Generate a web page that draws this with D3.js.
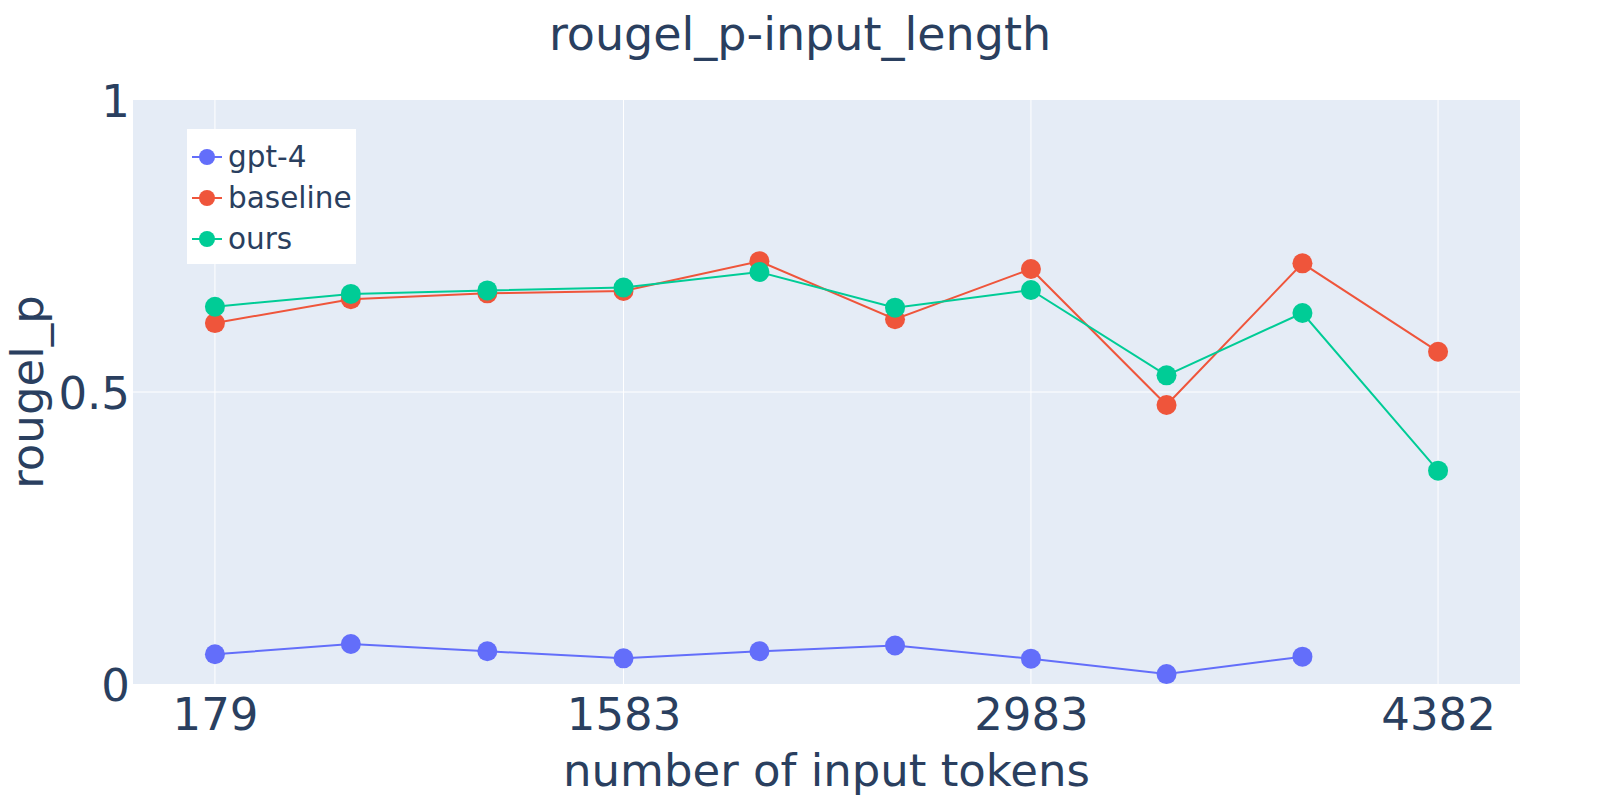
<!DOCTYPE html>
<html>
<head>
<meta charset="utf-8">
<script src="https://cdn.jsdelivr.net/npm/d3@7"></script>
<style>
  html, body { margin: 0; padding: 0; background: #fff; }
  svg { display: block; font-family: "DejaVu Sans", Verdana, sans-serif; }
</style>
</head>
<body>
<svg id="chart" width="1600" height="800"></svg>
<script>
// ---- data ----
const xValues = [179, 646, 1115, 1583, 2050, 2516, 2983, 3449, 3916, 4382];
const gpt4 = [0.051, 0.0685, 0.056, 0.044, 0.056, 0.066, 0.0434, 0.017, 0.0468];
const baseline = [0.618, 0.659, 0.669, 0.673, 0.724, 0.6245, 0.7106, 0.4777, 0.7203, 0.569];
const ours = [0.646, 0.668, 0.674, 0.679, 0.7055, 0.6444, 0.6747, 0.5285, 0.6353, 0.3653];
const seriesNames = ["gpt-4", "baseline", "ours"];
const xTicks = [179, 1583, 2983, 4382];
const yTicks = [0, 0.5, 1];
const yTickLabels = ["0", "0.5", "1"];
const titleText = "rougel_p-input_length";
const xTitle = "number of input tokens";
const yTitle = "rougel_p";

// ---- layout ----
const W = 1600, H = 800;
const plot = { left: 133, right: 1520, top: 100, bottom: 684 };
const colors = ["#636efa", "#EF553B", "#00cc96"];
const textColor = "#2a3f5f";
const series = [gpt4, baseline, ours];

const svg = d3.select("#chart");

const xmin = d3.min(xValues), xmax = d3.max(xValues);
const pad = (xmax - xmin) * 0.067;
const x = d3.scaleLinear().domain([xmin - pad, xmax + pad]).range([plot.left, plot.right]);
const y = d3.scaleLinear().domain([0, 1]).range([plot.bottom, plot.top]);

// background
svg.append("rect")
  .attr("x", plot.left).attr("y", plot.top)
  .attr("width", plot.right - plot.left).attr("height", plot.bottom - plot.top)
  .attr("fill", "#E5ECF6");

// gridlines
const grid = svg.append("g");
grid.selectAll("line.xg").data(xTicks).enter().append("line")
  .attr("x1", d => x(d)).attr("x2", d => x(d))
  .attr("y1", plot.top).attr("y2", plot.bottom)
  .attr("stroke", "#fff").attr("stroke-width", 1);
grid.selectAll("line.yg").data(yTicks.filter(d => d > 0 && d < 1)).enter().append("line")
  .attr("x1", plot.left).attr("x2", plot.right)
  .attr("y1", d => y(d)).attr("y2", d => y(d))
  .attr("stroke", "#fff").attr("stroke-width", 1);

// axes via d3 axis generators
const xAxis = d3.axisBottom(x).tickValues(xTicks).tickFormat(d3.format("d")).tickSize(0).tickPadding(14);
const gx = svg.append("g").attr("transform", `translate(0,${plot.bottom})`).call(xAxis);
gx.select(".domain").remove();
gx.selectAll("text").attr("font-size", 45).attr("fill", textColor)
  .attr("font-family", "DejaVu Sans").attr("dy", "0.71em");

const yAxis = d3.axisLeft(y).tickValues(yTicks).tickFormat((d, i) => yTickLabels[i]).tickSize(0).tickPadding(3);
const gy = svg.append("g").attr("transform", `translate(${plot.left},0)`).call(yAxis);
gy.select(".domain").remove();
gy.selectAll("text").attr("font-size", 45).attr("fill", textColor)
  .attr("font-family", "DejaVu Sans").attr("dy", "0.36em");

// lines & markers
const line = d3.line().x((d, i) => x(xValues[i])).y(d => y(d));
series.forEach((s, k) => {
  const g = svg.append("g");
  g.append("path").datum(s).attr("d", line)
    .attr("fill", "none").attr("stroke", colors[k]).attr("stroke-width", 2);
  g.selectAll("circle").data(s).enter().append("circle")
    .attr("cx", (d, i) => x(xValues[i])).attr("cy", d => y(d))
    .attr("r", 10).attr("fill", colors[k]);
});

// title
svg.append("text").attr("x", W / 2).attr("y", 50)
  .attr("text-anchor", "middle").attr("font-size", 46).attr("fill", textColor)
  .text(titleText);

// x title
svg.append("text").attr("x", (plot.left + plot.right) / 2).attr("y", 786)
  .attr("text-anchor", "middle").attr("font-size", 45).attr("fill", textColor)
  .text(xTitle);

// y title
svg.append("text")
  .attr("transform", `translate(43,${(plot.top + plot.bottom) / 2}) rotate(-90)`)
  .attr("text-anchor", "middle").attr("font-size", 45).attr("fill", textColor)
  .text(yTitle);

// legend
const leg = svg.append("g").attr("transform", "translate(187,129)");
leg.append("rect").attr("width", 169).attr("height", 135).attr("fill", "#fff");
seriesNames.forEach((n, k) => {
  const cy = 28 + k * 41;
  const it = leg.append("g").attr("transform", `translate(0,${cy})`);
  it.append("line").attr("x1", 5).attr("x2", 35).attr("y1", 0).attr("y2", 0)
    .attr("stroke", colors[k]).attr("stroke-width", 2);
  it.append("circle").attr("cx", 20).attr("cy", 0).attr("r", 8).attr("fill", colors[k]);
  it.append("text").attr("x", 41).attr("y", 0).attr("dy", "0.35em")
    .attr("font-size", 29.5).attr("fill", textColor).text(n);
});
</script>
</body>
</html>
